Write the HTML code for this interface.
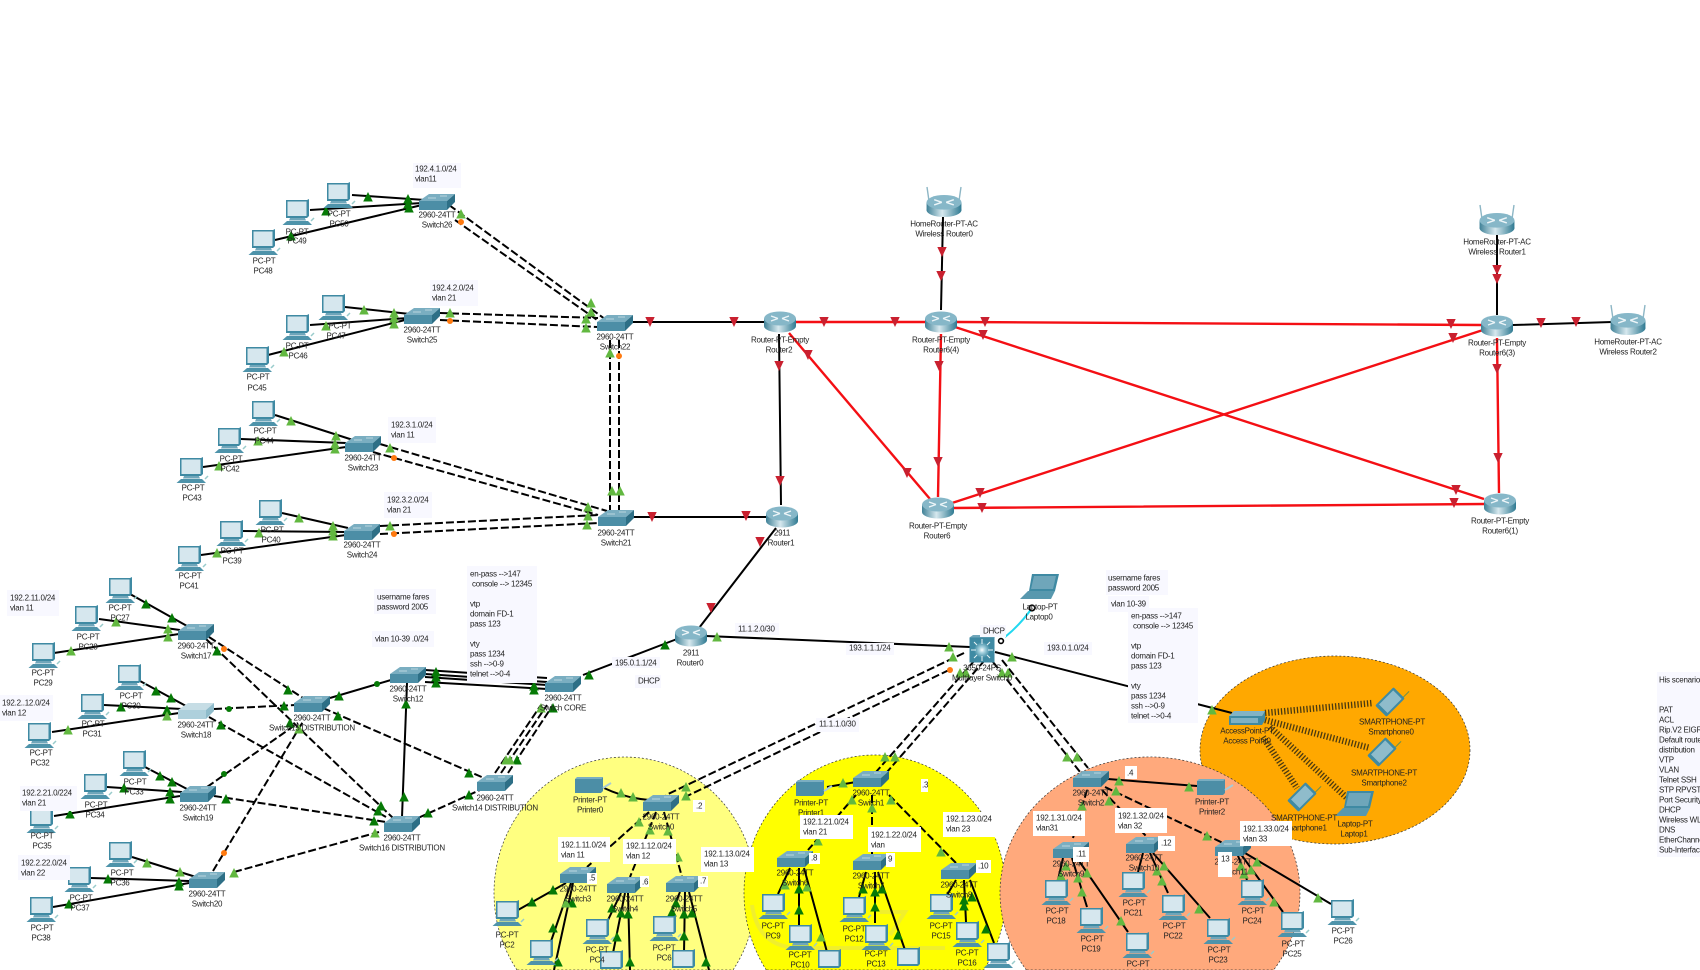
<!DOCTYPE html>
<html lang="en"><head><meta charset="utf-8"><title>Network topology</title>
<style>
html,body{margin:0;padding:0;background:#fff;width:1700px;height:970px;overflow:hidden}
svg{display:block;filter:blur(.35px)}
text{font-family:"Liberation Sans",sans-serif;font-size:8px;letter-spacing:-.25px;fill:#222;dominant-baseline:central}
.c text{text-anchor:middle}
.s path{stroke:#000;stroke-width:2;fill:none}
.d path{stroke:#000;stroke-width:2;fill:none;stroke-dasharray:8 3}
.r path{stroke:#f40f14;stroke-width:2.4;fill:none}
.w path{stroke:#4a3a10;stroke-width:6.5;fill:none;stroke-dasharray:1.3 1.9}
.b rect{fill:#f8f8ff}.bw rect{fill:#fff}
</style></head><body>
<svg width="1700" height="970" viewBox="0 0 1700 970" xmlns="http://www.w3.org/2000/svg">
<defs>
<linearGradient id="gr" x1="0" x2="1" y1="0" y2="0"><stop offset="0" stop-color="#3f8197"/><stop offset=".45" stop-color="#d6e8ee"/><stop offset="1" stop-color="#2f7a92"/></linearGradient>
<radialGradient id="gm"><stop offset="0" stop-color="#fff"/><stop offset=".35" stop-color="#a9d3e0"/><stop offset="1" stop-color="#3f8ba3"/></radialGradient>
<polygon id="dk" points="0,-5 4.8,4.5 -4.8,4.5" fill="#067a06"/>
<polygon id="lt" points="0,-5 4.8,4.5 -4.8,4.5" fill="#62b840"/>
<polygon id="rd" points="0,5 -4.7,-5 4.7,-5" fill="#c9202f"/>
<g id="pct">
<polygon points="-11,-12 10,-12 12,-13 12,4 10,6 -11,6" fill="#3f8aa3"/>
<rect x="-9.5" y="-10.5" width="19" height="14.5" fill="#d6e7ee"/>
</g>
<g id="pc">
<use href="#pct"/>
<polygon points="-7,6 8,6 9,8.5 -8,8.5" fill="#6fa6ba"/>
<polygon points="-10,9 11,9 15,13 -14.5,13" fill="#4e93aa"/>
<path d="M14 9l3-3" stroke="#9cc" stroke-width="1.5"/>
</g>
<g id="sw">
<polygon points="-18,-1 -8,-8 18,-8 10,-1" fill="#7aaec1"/>
<polygon points="-18,-1 10,-1 10,8 -18,8" fill="#4c8ea6"/>
<polygon points="10,-1 18,-8 18,0 10,8" fill="#2d6f86"/>
<path d="M-9 -4h8M3 -6h7" stroke="#cfe3ea" stroke-width=".8"/>
</g>
<g id="sl">
<polygon points="-18,-1 -8,-8 18,-8 10,-1" fill="#c6dde5"/>
<polygon points="-18,-1 10,-1 10,8 -18,8" fill="#aed0dc"/>
<polygon points="10,-1 18,-8 18,0 10,8" fill="#8fbccb"/>
</g>
<g id="rt">
<rect x="-16" y="-3.5" width="32" height="8" fill="url(#gr)"/>
<ellipse cx="0" cy="4" rx="16" ry="6.5" fill="url(#gr)"/>
<ellipse cx="0" cy="-3.5" rx="16" ry="7" fill="#86b7c8"/>
<path d="M-9 -6l7 2.5M9 -6l-7 2.5M-9 -1l7 -2.5M9 -1l-7 -2.5" stroke="#edf5f8" stroke-width="1.3"/>
</g>
<g id="wr">
<path d="M-15 -5L-17 -19M15 -5L17 -19" stroke="#8db6c5" stroke-width="1.4"/>
<use href="#rt" transform="scale(1.09 1.05)"/>
</g>
<g id="ml">
<rect x="-12.5" y="-12.5" width="25" height="25" fill="#3f8aa3"/>
<polygon points="-12.5,-12.5 -9,-15 15,-15 12.5,-12.5" fill="#6fa6ba"/>
<circle r="8" fill="url(#gm)"/>
<path d="M-11 0h5M6 0h5M0 -11v5M0 6v5M-8 -8l3 3M8 8l-3-3M8 -8l-3 3M-8 8l3-3" stroke="#e8f3f6" stroke-width="1"/>
</g>
<g id="lp">
<polygon points="-8,-14 19,-14 15,3 -11,3" fill="#3f8aa3"/>
<polygon points="-6,-12 16,-12 13,1 -9,1" fill="#6fa6ba"/>
<polygon points="-12,3 15,3 11,11 -20,11" fill="#5898ae"/>
</g>
<g id="pr">
<polygon points="-15,-7 11,-7 13,-9 13,5 11,7 -15,7" fill="#4c8ea6"/>
<polygon points="-15,-7 11,-7 13,-9 -13,-9" fill="#7aaec1"/>
<path d="M13 2l8-5" stroke="#a9cbd6" stroke-width="2"/>
</g>
<g id="ap">
<polygon points="-18,-2 15,-2 18,-7 18,2 15,7 -18,7" fill="#3f8aa3"/>
<polygon points="-18,-2 15,-2 18,-7 -13,-7" fill="#82b3c5"/>
<rect x="-16" y="0" width="27" height="5" fill="#7fb1c3"/>
</g>
<g id="ph">
<rect x="-8" y="-13" width="16" height="26" rx="1.5" fill="#3f8aa3"/>
<rect x="-6" y="-10.5" width="12" height="20" fill="#8fbccb"/>
<path d="M6 -13v-8" stroke="#6b8f4e" stroke-width="1"/>
</g>
</defs>

<rect width="1700" height="970" fill="#fff"/>
<g stroke="#333" stroke-width=".7" stroke-dasharray="2 2">
<ellipse cx="1335" cy="750" rx="135" ry="94" fill="#ffa800"/>
<path d="M517 970A131 136 0 1 1 733 970Z" fill="#ffff80"/>
<path d="M766.3 970A131 138 0 1 1 983.7 970Z" fill="#ffff00"/>
<path d="M1026.4 970A150 136 0 1 1 1273.6 970Z" fill="#ffa97c"/>
</g>
<path d="M752 905Q758 948 800 948H945M880 912H905L890 935" fill="none" stroke="#e9e840" stroke-width="4" opacity=".7"/>

<g class="s">
<path d="M352 195L425 200M310 210L422 203M275 240L422 205"/>
<path d="M345 307L410 314M310 325L408 318M268 355L405 320"/>
<path d="M275 415L353 440M241 439L346 443M203 467L346 447"/>
<path d="M282 513L348 528M241 531L346 532M201 555L346 535"/>
<path d="M632 322H766M1513 325L1612 322M943 217L941 310M1497 235V315M779 334L781 505M632 517H767M776 528L699 628"/>
<path d="M130 594L187 626M99 619L180 630M54 653L179 634"/>
<path d="M140 681L186 706M104 705L182 709M52 732L179 713"/>
<path d="M145 767L187 789M107 787L182 792M54 816L180 796"/>
<path d="M132 857L196 877M91 878L189 881M53 907L189 883"/>
<path d="M330 698L391 680M407 683L402 817"/>
<path d="M425 670L547 678M425 674L547 682M425 677L547 685M425 682L547 689"/>
<path d="M583 675L677 639M706 636L970 647M995 652L1232 713"/>
<path d="M604 788Q625 798 649 800M566 883L518 910M571 883L547 953M573 883L554 970"/>
<path d="M621 893L608 920M625 893L613 953M628 893L630 970M680 892L669 917M685 892L684 953M689 892L709 970"/>
<path d="M827 787L856 782M790 868L778 894M799 868V927M804 868L827 952M866 872L859 897M875 872V923M878 872L905 950"/>
<path d="M956 880L947 895M964 880L966 922M970 880L994 943"/>
<path d="M1108 779L1197 786M1063 858L1058 880M1072 858L1087 907M1077 858L1128 932"/>
<path d="M1143 853L1138 872M1150 853L1168 893M1153 853L1210 918M1237 853L1247 880M1240 853L1283 912M1245 853L1331 904"/>
</g>
<g class="r">
<path d="M796 322H925M957 322L1481 325M941 334L938 497M1497 338L1499 493M955 327L1484 499M1483 330L952 503M953 508L1485 504"/>
<path d="M789 333L930 499" stroke-width="2"/>
</g>
<g class="d">
<path d="M449 205L609 322M455 220L600 322M440 313L598 318M440 320L598 327M610 340V510M619 340V510"/>
<path d="M380 444L607 511M373 452L598 515M380 526L598 515M380 534L598 523"/>
<path d="M209 637L303 698M206 639L393 818M214 709L295 705M209 717L386 817M207 787L298 723M214 796L386 822M213 871L304 720M234 872L379 832"/>
<path d="M323 708L484 778M418 818L480 790"/>
<path d="M495 773L541 705M501 773L547 705M508 773L553 705"/>
<path d="M964 653L666 795M949 670L683 798M975 660L876 772M985 660L887 772M993 662L1080 772M1002 660L1088 768"/>
<path d="M649 812L587 867M656 812L630 877M664 812L682 877"/>
<path d="M856 795L808 850M872 795V855M889 795L956 863"/>
<path d="M1087 790L1073 838M1102 790L1147 837M1105 787L1223 843"/>
</g>
<g class="w"><path d="M1265 713L1373 703M1265 720L1370 748M1270 727L1347 798M1263 737L1297 788"/></g>
<path d="M1005 637Q1020 625 1032 608" stroke="#22d8f0" stroke-width="2" fill="none"/>

<g id="tri-d">
<use href="#dk" x="368" y="197"/><use href="#dk" x="408" y="199"/><use href="#dk" x="326" y="211"/><use href="#dk" x="408" y="204"/><use href="#dk" x="291" y="236"/><use href="#dk" x="409" y="208"/>
<use href="#dk" x="146" y="604"/><use href="#dk" x="172" y="618"/><use href="#dk" x="217" y="651"/><use href="#dk" x="288" y="690"/><use href="#dk" x="381" y="806"/>
<use href="#dk" x="156" y="691"/><use href="#dk" x="171" y="698"/><use href="#dk" x="121" y="707"/><use href="#dk" x="167" y="710"/><use href="#dk" x="221" y="725"/><use href="#dk" x="284" y="706"/><use href="#dk" x="378" y="811"/>
<use href="#dk" x="160" y="776"/><use href="#dk" x="172" y="782"/><use href="#dk" x="124" y="788"/><use href="#dk" x="170" y="792"/><use href="#dk" x="70" y="814"/><use href="#dk" x="170" y="799"/><use href="#dk" x="226" y="799"/><use href="#dk" x="290" y="723"/><use href="#dk" x="374" y="821"/>
<use href="#dk" x="108" y="879"/><use href="#dk" x="179" y="882"/><use href="#dk" x="69" y="904"/><use href="#dk" x="179" y="886"/>
<use href="#dk" x="339" y="696"/><use href="#dk" x="338" y="716"/><use href="#dk" x="469" y="773"/><use href="#dk" x="406" y="704"/><use href="#dk" x="404" y="797"/><use href="#dk" x="428" y="813"/><use href="#dk" x="469" y="795"/>
<use href="#dk" x="436" y="672"/><use href="#dk" x="436" y="677"/><use href="#dk" x="436" y="683"/><use href="#dk" x="534" y="686"/><use href="#dk" x="534" y="690"/><use href="#dk" x="517" y="760"/><use href="#dk" x="553" y="708"/>
<use href="#dk" x="589" y="675"/><use href="#dk" x="665" y="645"/>
<use href="#dk" x="553" y="890"/><use href="#dk" x="532" y="902"/><use href="#dk" x="553" y="928"/><use href="#dk" x="558" y="962"/><use href="#dk" x="572" y="903"/>
<use href="#dk" x="612" y="908"/><use href="#dk" x="621" y="913"/><use href="#dk" x="617" y="937"/><use href="#dk" x="628" y="914"/><use href="#dk" x="630" y="962"/>
<use href="#dk" x="676" y="903"/><use href="#dk" x="672" y="912"/><use href="#dk" x="684" y="914"/><use href="#dk" x="684" y="936"/><use href="#dk" x="692" y="913"/><use href="#dk" x="706" y="962"/>
<use href="#dk" x="799" y="889"/><use href="#dk" x="799" y="910"/><use href="#dk" x="863" y="889"/><use href="#dk" x="875" y="892"/><use href="#dk" x="875" y="907"/><use href="#dk" x="882" y="889"/><use href="#dk" x="898" y="935"/>
<use href="#dk" x="964" y="900"/><use href="#dk" x="964" y="906"/><use href="#dk" x="972" y="897"/><use href="#dk" x="986" y="929"/>
</g>
<g id="tri-l">
<use href="#lt" x="461" y="214"/><use href="#lt" x="591" y="303"/><use href="#lt" x="591" y="312"/>
<use href="#lt" x="364" y="310"/><use href="#lt" x="394" y="313"/><use href="#lt" x="326" y="326"/><use href="#lt" x="394" y="318"/><use href="#lt" x="284" y="352"/><use href="#lt" x="394" y="324"/><use href="#lt" x="450" y="313"/><use href="#lt" x="586" y="319"/><use href="#lt" x="586" y="328"/>
<use href="#lt" x="610" y="353"/><use href="#lt" x="612" y="491"/><use href="#lt" x="620" y="491"/>
<use href="#lt" x="291" y="421"/><use href="#lt" x="336" y="436"/><use href="#lt" x="258" y="441"/><use href="#lt" x="335" y="444"/><use href="#lt" x="219" y="466"/><use href="#lt" x="335" y="449"/><use href="#lt" x="390" y="448"/><use href="#lt" x="588" y="507"/><use href="#lt" x="588" y="516"/>
<use href="#lt" x="299" y="518"/><use href="#lt" x="333" y="526"/><use href="#lt" x="259" y="533"/><use href="#lt" x="333" y="531"/><use href="#lt" x="217" y="553"/><use href="#lt" x="333" y="536"/><use href="#lt" x="390" y="526"/><use href="#lt" x="587" y="525"/>
<use href="#lt" x="116" y="622"/><use href="#lt" x="168" y="629"/><use href="#lt" x="71" y="651"/><use href="#lt" x="168" y="637"/><use href="#lt" x="68" y="730"/><use href="#lt" x="167" y="716"/>
<use href="#lt" x="147" y="863"/><use href="#lt" x="180" y="872"/><use href="#lt" x="299" y="729"/><use href="#lt" x="234" y="873"/><use href="#lt" x="375" y="833"/>
<use href="#lt" x="506" y="760"/><use href="#lt" x="510" y="760"/><use href="#lt" x="541" y="708"/>
<use href="#lt" x="717" y="637"/><use href="#lt" x="949" y="647"/><use href="#lt" x="953" y="657"/>
<use href="#lt" x="686" y="787"/><use href="#lt" x="686" y="796"/><use href="#lt" x="960" y="673"/><use href="#lt" x="966" y="673"/><use href="#lt" x="885" y="757"/><use href="#lt" x="895" y="757"/>
<use href="#lt" x="1002" y="673"/><use href="#lt" x="1008" y="673"/><use href="#lt" x="1067" y="757"/><use href="#lt" x="1077" y="757"/><use href="#lt" x="1012" y="657"/><use href="#lt" x="1212" y="710"/>
<use href="#lt" x="621" y="793"/><use href="#lt" x="633" y="797"/><use href="#lt" x="639" y="822"/><use href="#lt" x="650" y="830"/><use href="#lt" x="668" y="831"/><use href="#lt" x="678" y="857"/><use href="#lt" x="566" y="903"/>
<use href="#lt" x="843" y="783"/><use href="#lt" x="852" y="800"/><use href="#lt" x="818" y="841"/><use href="#lt" x="872" y="808"/><use href="#lt" x="891" y="800"/><use href="#lt" x="941" y="852"/><use href="#lt" x="785" y="885"/><use href="#lt" x="807" y="887"/><use href="#lt" x="821" y="937"/>
<use href="#lt" x="1119" y="781"/><use href="#lt" x="1189" y="787"/><use href="#lt" x="1082" y="806"/><use href="#lt" x="1109" y="801"/><use href="#lt" x="1116" y="791"/><use href="#lt" x="1207" y="836"/>
<use href="#lt" x="1066" y="866"/><use href="#lt" x="1061" y="876"/><use href="#lt" x="1078" y="878"/><use href="#lt" x="1082" y="892"/><use href="#lt" x="1087" y="873"/><use href="#lt" x="1121" y="921"/>
<use href="#lt" x="1157" y="871"/><use href="#lt" x="1162" y="881"/><use href="#lt" x="1164" y="866"/><use href="#lt" x="1199" y="909"/>
<use href="#lt" x="1241" y="866"/><use href="#lt" x="1244" y="874"/><use href="#lt" x="1251" y="870"/><use href="#lt" x="1274" y="902"/><use href="#lt" x="1257" y="862"/><use href="#lt" x="1318" y="898"/>
</g>
<g id="tri-r">
<use href="#rd" x="650" y="322"/><use href="#rd" x="652" y="517"/><use href="#rd" x="734" y="322"/><use href="#rd" x="824" y="322"/><use href="#rd" x="895" y="322"/><use href="#rd" x="985" y="322"/><use href="#rd" x="1451" y="324"/><use href="#rd" x="1541" y="323"/><use href="#rd" x="1576" y="322"/>
<use href="#rd" x="1497" y="270"/><use href="#rd" x="1497" y="279"/><use href="#rd" x="942" y="252"/><use href="#rd" x="941" y="276"/><use href="#rd" x="779" y="366"/><use href="#rd" x="780" y="481"/><use href="#rd" x="808" y="355"/><use href="#rd" x="907" y="473"/>
<use href="#rd" x="939" y="366"/><use href="#rd" x="938" y="462"/><use href="#rd" x="983" y="335"/><use href="#rd" x="1456" y="490"/><use href="#rd" x="1453" y="338"/><use href="#rd" x="980" y="493"/><use href="#rd" x="1497" y="369"/><use href="#rd" x="1498" y="458"/><use href="#rd" x="982" y="508"/><use href="#rd" x="1454" y="503"/><use href="#rd" x="746" y="516"/><use href="#rd" x="760" y="542"/><use href="#rd" x="711" y="608"/>
</g>
<g fill="#ff7a10">
<circle cx="461" cy="222" r="3"/><circle cx="450" cy="321" r="3"/><circle cx="619" cy="356" r="3"/><circle cx="394" cy="458" r="3"/><circle cx="394" cy="534" r="3"/><circle cx="224" cy="649" r="3"/><circle cx="224" cy="853" r="3"/><circle cx="950" cy="670" r="3"/>
</g>
<g fill="#067a06"><circle cx="229" cy="709" r="3"/><circle cx="224" cy="774" r="3"/><circle cx="377" cy="684" r="3"/></g>
<g fill="#fff" stroke="#000" stroke-width="1.6"><circle cx="1032" cy="608" r="2.8"/><circle cx="1001" cy="641" r="2.4"/></g>

<g id="icons">
<use href="#pc" x="338" y="195"/><use href="#pc" x="297" y="212"/><use href="#pc" x="263" y="242"/><use href="#pc" x="333" y="307"/><use href="#pc" x="297" y="327"/><use href="#pc" x="257" y="359"/>
<use href="#pc" x="263" y="413"/><use href="#pc" x="229" y="440"/><use href="#pc" x="191" y="470"/><use href="#pc" x="270" y="512"/><use href="#pc" x="231" y="533"/><use href="#pc" x="189" y="558"/>
<use href="#pc" x="120" y="590"/><use href="#pc" x="86" y="618"/><use href="#pc" x="43" y="655"/><use href="#pc" x="129" y="677"/><use href="#pc" x="92" y="706"/><use href="#pc" x="39" y="735"/>
<use href="#pc" x="134" y="763"/><use href="#pc" x="95" y="786"/><use href="#pc" x="41" y="820"/><use href="#pc" x="120" y="854"/><use href="#pc" x="79" y="879"/><use href="#pc" x="41" y="909"/>
<use href="#pc" x="507" y="913"/><use href="#pc" x="541" y="952"/><use href="#pc" x="597" y="931"/><use href="#pct" x="611" y="963"/><use href="#pc" x="664" y="928"/><use href="#pct" x="683" y="962"/>
<use href="#pc" x="773" y="906"/><use href="#pc" x="800" y="937"/><use href="#pct" x="829" y="962"/><use href="#pc" x="854" y="909"/><use href="#pc" x="876" y="937"/><use href="#pct" x="908" y="960"/><use href="#pc" x="941" y="906"/><use href="#pc" x="967" y="934"/><use href="#pc" x="998" y="955"/>
<use href="#pc" x="1056" y="892"/><use href="#pc" x="1091" y="920"/><use href="#pc" x="1137" y="945"/><use href="#pc" x="1133" y="884"/><use href="#pc" x="1173" y="907"/><use href="#pc" x="1218" y="931"/><use href="#pc" x="1252" y="892"/><use href="#pc" x="1292" y="924"/><use href="#pc" x="1342" y="912"/>
<use href="#sw" x="437" y="202"/><use href="#sw" x="422" y="316"/><use href="#sw" x="615" y="323"/><use href="#sw" x="363" y="444"/><use href="#sw" x="362" y="532"/><use href="#sw" x="616" y="518"/>
<use href="#sw" x="196" y="632"/><use href="#sl" x="196" y="711"/><use href="#sw" x="198" y="794"/><use href="#sw" x="207" y="880"/><use href="#sw" x="312" y="704"/><use href="#sw" x="408" y="675"/><use href="#sw" x="495" y="783"/><use href="#sw" x="402" y="824"/><use href="#sw" x="563" y="684"/>
<use href="#sw" x="661" y="803"/><use href="#sw" x="578" y="875"/><use href="#sw" x="625" y="885"/><use href="#sw" x="684" y="884"/><use href="#sw" x="871" y="779"/><use href="#sw" x="795" y="859"/><use href="#sw" x="871" y="862"/><use href="#sw" x="959" y="871"/>
<use href="#sw" x="1091" y="779"/><use href="#sw" x="1071" y="850"/><use href="#sw" x="1144" y="845"/><use href="#sw" x="1233" y="848"/>
<use href="#rt" x="780" y="322"/><use href="#rt" x="941" y="322"/><use href="#rt" x="1497" y="326"/><use href="#rt" x="938" y="508"/><use href="#rt" x="1500" y="504"/><use href="#rt" x="782" y="517"/><use href="#rt" x="691" y="636"/>
<use href="#wr" x="944" y="206"/><use href="#wr" x="1497" y="224"/><use href="#wr" x="1628" y="324"/>
<use href="#ml" x="982" y="650"/>
<use href="#lp" x="1040" y="588"/><use href="#lp" x="1355" y="805"/>
<use href="#pr" x="590" y="786"/><use href="#pr" x="811" y="789"/><use href="#pr" x="1212" y="788"/>
<use href="#ap" x="1247" y="718"/>
<use href="#ph" transform="translate(1390 702) rotate(45)"/><use href="#ph" transform="translate(1382 752) rotate(45)"/><use href="#ph" transform="translate(1302 797) rotate(45)"/>
</g>

<g class="c" id="labels">
<text x="339" y="214">PC-PT</text><text x="339" y="224">PC50</text>
<text x="297" y="232">PC-PT</text><text x="297" y="241">PC49</text>
<text x="264" y="261">PC-PT</text><text x="263" y="271">PC48</text>
<text x="437" y="215">2960-24TT</text><text x="437" y="225">Switch26</text>
<text x="340" y="326">PC-PT</text><text x="336" y="336">PC47</text>
<text x="297" y="346">PC-PT</text><text x="298" y="356">PC46</text>
<text x="258" y="377">PC-PT</text><text x="257" y="388">PC45</text>
<text x="422" y="330">2960-24TT</text><text x="422" y="340">Switch25</text>
<text x="615" y="337">2960-24TT</text><text x="615" y="347">Switch22</text>
<text x="265" y="431">PC-PT</text><text x="264" y="441">PC44</text>
<text x="231" y="459">PC-PT</text><text x="230" y="469">PC42</text>
<text x="193" y="488">PC-PT</text><text x="192" y="498">PC43</text>
<text x="363" y="458">2960-24TT</text><text x="363" y="468">Switch23</text>
<text x="272" y="530">PC-PT</text><text x="271" y="540">PC40</text>
<text x="232" y="551">PC-PT</text><text x="232" y="561">PC39</text>
<text x="190" y="576">PC-PT</text><text x="189" y="586">PC41</text>
<text x="362" y="545">2960-24TT</text><text x="362" y="555">Switch24</text>
<text x="616" y="533">2960-24TT</text><text x="616" y="543">Switch21</text>
<text x="944" y="224">HomeRouter-PT-AC</text><text x="944" y="234">Wireless Router0</text>
<text x="1497" y="242">HomeRouter-PT-AC</text><text x="1497" y="252">Wireless Router1</text>
<text x="1628" y="342">HomeRouter-PT-AC</text><text x="1628" y="352">Wireless Router2</text>
<text x="780" y="340">Router-PT-Empty</text><text x="779" y="350">Router2</text>
<text x="941" y="340">Router-PT-Empty</text><text x="941" y="350">Router6(4)</text>
<text x="1497" y="343">Router-PT-Empty</text><text x="1497" y="353">Router6(3)</text>
<text x="938" y="526">Router-PT-Empty</text><text x="937" y="536">Router6</text>
<text x="1500" y="521">Router-PT-Empty</text><text x="1500" y="531">Router6(1)</text>
<text x="782" y="533">2911</text><text x="781" y="543">Router1</text>
<text x="691" y="653">2911</text><text x="690" y="663">Router0</text>
<text x="982" y="668">3650-24PS</text><text x="982" y="678">Multilayer Switch0</text>
<text x="1040" y="607">Laptop-PT</text><text x="1039" y="617">Laptop0</text>
<text x="120" y="608">PC-PT</text><text x="120" y="618">PC27</text>
<text x="88" y="637">PC-PT</text><text x="88" y="647">PC28</text>
<text x="43" y="673">PC-PT</text><text x="43" y="683">PC29</text>
<text x="131" y="696">PC-PT</text><text x="131" y="706">PC30</text>
<text x="93" y="724">PC-PT</text><text x="92" y="734">PC31</text>
<text x="41" y="753">PC-PT</text><text x="40" y="763">PC32</text>
<text x="135" y="782">PC-PT</text><text x="134" y="792">PC33</text>
<text x="96" y="805">PC-PT</text><text x="95" y="815">PC34</text>
<text x="42" y="836">PC-PT</text><text x="42" y="846">PC35</text>
<text x="122" y="873">PC-PT</text><text x="120" y="883">PC36</text>
<text x="81" y="898">PC-PT</text><text x="80" y="908">PC37</text>
<text x="42" y="928">PC-PT</text><text x="41" y="938">PC38</text>
<text x="196" y="646">2960-24TT</text><text x="196" y="656">Switch17</text>
<text x="196" y="725">2960-24TT</text><text x="196" y="735">Switch18</text>
<text x="198" y="808">2960-24TT</text><text x="198" y="818">Switch19</text>
<text x="207" y="894">2960-24TT</text><text x="207" y="904">Switch20</text>
<text x="312" y="718">2960-24TT</text><text x="312" y="728">Switch15 DISTRIBUTION</text>
<text x="408" y="689">2960-24TT</text><text x="408" y="699">Switch12</text>
<text x="495" y="798">2960-24TT</text><text x="495" y="808">Switch14 DISTRIBUTION</text>
<text x="402" y="838">2960-24TT</text><text x="402" y="848">Switch16 DISTRIBUTION</text>
<text x="563" y="698">2960-24TT</text><text x="563" y="708">Switch CORE</text>
<text x="590" y="800">Printer-PT</text><text x="590" y="810">Printer0</text>
<text x="811" y="803">Printer-PT</text><text x="811" y="813">Printer1</text>
<text x="1212" y="802">Printer-PT</text><text x="1212" y="812">Printer2</text>
<text x="661" y="817">2960-24TT</text><text x="661" y="827">Switch0</text>
<text x="871" y="793">2960-24TT</text><text x="871" y="803">Switch1</text>
<text x="1091" y="793">2960-24TT</text><text x="1091" y="803">Switch2</text>
<text x="578" y="889">2960-24TT</text><text x="578" y="899">Switch3</text>
<text x="625" y="899">2960-24TT</text><text x="625" y="909">Switch4</text>
<text x="684" y="899">2960-24TT</text><text x="684" y="909">Switch5</text>
<text x="795" y="873">2960-24TT</text><text x="795" y="883">Switch6</text>
<text x="871" y="876">2960-24TT</text><text x="871" y="886">Switch7</text>
<text x="959" y="885">2960-24TT</text><text x="959" y="895">Switch8</text>
<text x="1071" y="864">2960-24TT</text><text x="1071" y="874">Switch9</text>
<text x="1144" y="858">2960-24TT</text><text x="1144" y="868">Switch10</text>
<text x="1233" y="862">2960-24TT</text><text x="1233" y="872">Switch11</text>
<text x="507" y="935">PC-PT</text><text x="507" y="945">PC2</text>
<text x="597" y="950">PC-PT</text><text x="597" y="960">PC4</text>
<text x="664" y="948">PC-PT</text><text x="664" y="958">PC6</text>
<text x="773" y="926">PC-PT</text><text x="773" y="936">PC9</text>
<text x="800" y="955">PC-PT</text><text x="800" y="965">PC10</text>
<text x="854" y="929">PC-PT</text><text x="854" y="939">PC12</text>
<text x="876" y="954">PC-PT</text><text x="876" y="964">PC13</text>
<text x="941" y="926">PC-PT</text><text x="941" y="936">PC15</text>
<text x="967" y="953">PC-PT</text><text x="967" y="963">PC16</text>
<text x="1057" y="911">PC-PT</text><text x="1056" y="921">PC18</text>
<text x="1092" y="939">PC-PT</text><text x="1091" y="949">PC19</text>
<text x="1138" y="964">PC-PT</text>
<text x="1134" y="903">PC-PT</text><text x="1133" y="913">PC21</text>
<text x="1174" y="926">PC-PT</text><text x="1173" y="936">PC22</text>
<text x="1219" y="950">PC-PT</text><text x="1218" y="960">PC23</text>
<text x="1253" y="911">PC-PT</text><text x="1252" y="921">PC24</text>
<text x="1293" y="944">PC-PT</text><text x="1292" y="954">PC25</text>
<text x="1343" y="931">PC-PT</text><text x="1343" y="941">PC26</text>
<text x="1247" y="731">AccessPoint-PT</text><text x="1247" y="741">Access Point0</text>
<text x="1392" y="722">SMARTPHONE-PT</text><text x="1391" y="732">Smartphone0</text>
<text x="1384" y="773">SMARTPHONE-PT</text><text x="1384" y="783">Smartphone2</text>
<text x="1304" y="818">SMARTPHONE-PT</text><text x="1304" y="828">Smartphone1</text>
<text x="1355" y="824">Laptop-PT</text><text x="1354" y="834">Laptop1</text>
</g>

<g class="b">
<rect x="413" y="163" width="48" height="25"/><rect x="430" y="280" width="48" height="26"/><rect x="388" y="417" width="48" height="26"/><rect x="384" y="492" width="48" height="26"/>
<rect x="7" y="590" width="52" height="26"/><rect x="0" y="695" width="53" height="26"/><rect x="20" y="786" width="57" height="25"/><rect x="18" y="855" width="52" height="25"/>
<rect x="374" y="589" width="62" height="25"/><rect x="372" y="631" width="62" height="16"/><rect x="467" y="566" width="70" height="117"/>
<rect x="735" y="623" width="44" height="12"/><rect x="846" y="643" width="48" height="12"/><rect x="612" y="657" width="48" height="11"/><rect x="635" y="675" width="26" height="13"/><rect x="980" y="625" width="26" height="12"/><rect x="816" y="718" width="43" height="14"/>
<rect x="1106" y="570" width="62" height="25"/><rect x="1108" y="596" width="41" height="16"/><rect x="1128" y="608" width="70" height="115"/><rect x="1044" y="642" width="48" height="13"/>
<rect x="1657" y="672" width="43" height="185"/>
</g>
<g class="bw">
<rect x="558" y="837" width="52" height="25"/><rect x="623" y="839" width="53" height="25"/><rect x="701" y="847" width="53" height="25"/><rect x="800" y="815" width="53" height="24"/><rect x="868" y="827" width="53" height="25"/><rect x="943" y="812" width="52" height="25"/>
<rect x="587" y="873" width="10" height="11"/><rect x="640" y="876" width="9" height="11"/><rect x="698" y="876" width="10" height="11"/><rect x="693" y="800" width="12" height="12"/><rect x="921" y="779" width="7" height="13"/><rect x="809" y="853" width="11" height="11"/><rect x="886" y="853" width="9" height="14"/><rect x="976" y="860" width="15" height="13"/>
<rect x="1125" y="766" width="12" height="13"/><rect x="1033" y="811" width="52" height="25"/><rect x="1115" y="808" width="52" height="25"/><rect x="1240" y="821" width="52" height="25"/><rect x="1073" y="847" width="16" height="15"/><rect x="1158" y="836" width="17" height="15"/><rect x="1218" y="852" width="14" height="25"/>
</g>

<g id="boxtext">
<text x="415" y="169">192.4.1.0/24</text><text x="415" y="179">vlan11</text>
<text x="432" y="288">192.4.2.0/24</text><text x="432" y="298">vlan 21</text>
<text x="391" y="425">192.3.1.0/24</text><text x="391" y="435">vlan 11</text>
<text x="387" y="500">192.3.2.0/24</text><text x="387" y="510">vlan 21</text>
<text x="10" y="598">192.2.11.0/24</text><text x="10" y="608">vlan 11</text>
<text x="2" y="703">192.2..12.0/24</text><text x="2" y="713">vlan 12</text>
<text x="22" y="793">192.2.21.0/224</text><text x="22" y="803">vlan 21</text>
<text x="21" y="863">192.2.22.0/24</text><text x="21" y="873">vlan 22</text>
<text x="377" y="597">username  fares</text><text x="377" y="607">password 2005</text>
<text x="375" y="639">vlan 10-39  .0/24</text>
<text x="470" y="574">en-pass --&gt;147</text><text x="472" y="584">console --&gt; 12345</text><text x="470" y="604">vtp</text><text x="470" y="614">domain FD-1</text><text x="470" y="624">pass 123</text><text x="470" y="644">vty</text><text x="470" y="654">pass 1234</text><text x="470" y="664">ssh --&gt;0-9</text><text x="470" y="674">telnet --&gt;0-4</text>
<text x="738" y="629">11.1.2.0/30</text><text x="849" y="648">193.1.1.1/24</text><text x="615" y="663">195.0.1.1/24</text><text x="638" y="681">DHCP</text><text x="983" y="631">DHCP</text><text x="819" y="724">11.1.1.0/30</text>
<text x="1108" y="578">username  fares</text><text x="1108" y="588">password 2005</text><text x="1111" y="604">vlan 10-39</text>
<text x="1131" y="616">en-pass --&gt;147</text><text x="1133" y="626">console --&gt; 12345</text><text x="1131" y="646">vtp</text><text x="1131" y="656">domain FD-1</text><text x="1131" y="666">pass 123</text><text x="1131" y="686">vty</text><text x="1131" y="696">pass 1234</text><text x="1131" y="706">ssh --&gt;0-9</text><text x="1131" y="716">telnet --&gt;0-4</text>
<text x="1047" y="648">193.0.1.0/24</text>
<text x="561" y="845">192.1.11.0/24</text><text x="561" y="855">vlan 11</text>
<text x="626" y="846">192.1.12.0/24</text><text x="626" y="856">vlan 12</text>
<text x="704" y="854">192.1.13.0/24</text><text x="704" y="864">vlan 13</text>
<text x="803" y="822">192.1.21.0/24</text><text x="803" y="832">vlan 21</text>
<text x="871" y="835">192.1.22.0/24</text><text x="871" y="845">vlan</text>
<text x="946" y="819">192.1.23.0/24</text><text x="946" y="829">vlan 23</text>
<text x="1036" y="818">192.1.31.0/24</text><text x="1036" y="828">vlan31</text>
<text x="1118" y="816">192.1.32.0/24</text><text x="1118" y="826">vlan 32</text>
<text x="1243" y="829">192.1.33.0/24</text><text x="1243" y="839">vlan 33</text>
<text x="589" y="878">.5</text><text x="642" y="882">.6</text><text x="700" y="881">.7</text><text x="696" y="806">.2</text><text x="922" y="785">.3</text><text x="811" y="858">.8</text><text x="888" y="859">9</text><text x="978" y="866">.10</text>
<text x="1127" y="773">.4</text><text x="1076" y="854">.11</text><text x="1161" y="843">.12</text><text x="1221" y="859">13</text>
<text x="1659" y="680">His scenario</text><text x="1659" y="710">PAT</text><text x="1659" y="720">ACL</text><text x="1659" y="730">Rip.V2 EIGRP</text><text x="1659" y="740">Default route</text><text x="1659" y="750">distribution</text><text x="1659" y="760">VTP</text><text x="1659" y="770">VLAN</text><text x="1659" y="780">Telnet SSH</text><text x="1659" y="790">STP RPVST</text><text x="1659" y="800">Port Security</text><text x="1659" y="810">DHCP</text><text x="1659" y="820">Wireless WLAN</text><text x="1659" y="830">DNS</text><text x="1659" y="840">EtherChannel</text><text x="1659" y="850">Sub-Interface</text>
</g>
</svg>
</body></html>
